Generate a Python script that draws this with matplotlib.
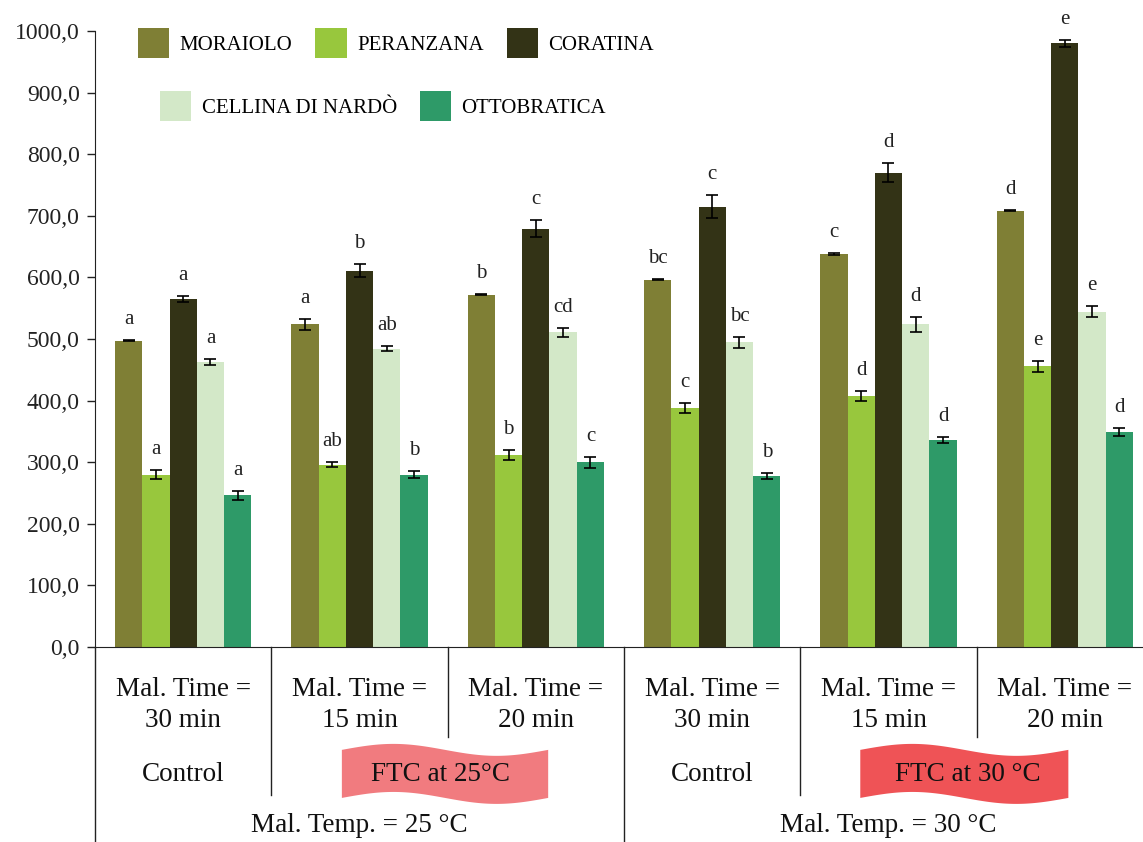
import numpy as np
import matplotlib
matplotlib.use('Agg')
import matplotlib.pyplot as plt
from matplotlib.patches import Patch, Polygon
from matplotlib.transforms import blended_transform_factory

plt.rcParams['font.family'] = ['Liberation Serif', 'DejaVu Serif']

# data
groups = ['Mal. Time =\n30 min', 'Mal. Time =\n15 min', 'Mal. Time =\n20 min',
          'Mal. Time =\n30 min', 'Mal. Time =\n15 min', 'Mal. Time =\n20 min']
cultivars = ['MORAIOLO', 'PERANZANA', 'CORATINA', 'CELLINA DI NARDÒ', 'OTTOBRATICA']

moraiolo = [497, 524, 572, 596, 638, 708]
moraiolo_err = [1, 9, 1, 1, 1, 1]
moraiolo_let = ['a', 'a', 'b', 'bc', 'c', 'd']

peranzana = [280, 296, 311, 388, 407, 456]
peranzana_err = [8, 4, 8, 8, 8, 9]
peranzana_let = ['a', 'ab', 'b', 'c', 'd', 'e']

coratina = [565, 611, 679, 715, 770, 980]
coratina_err = [5, 10, 14, 18, 15, 6]
coratina_let = ['a', 'b', 'c', 'c', 'd', 'e']

cellina = [462, 484, 511, 495, 524, 544]
cellina_err = [5, 4, 7, 9, 12, 9]
cellina_let = ['a', 'ab', 'cd', 'bc', 'd', 'e']

ottobratica = [246, 280, 300, 278, 336, 349]
ottobratica_err = [7, 6, 9, 5, 5, 7]
ottobratica_let = ['a', 'b', 'c', 'b', 'd', 'd']

treatments = ['Control', 'FTC at 25°C', 'Control', 'FTC at 30 °C']
temps = ['Mal. Temp. = 25 °C', 'Mal. Temp. = 30 °C']

colors = ['#7F7F35', '#98C73D', '#333316', '#D3E8C8', '#2E9A68']
series = [moraiolo, peranzana, coratina, cellina, ottobratica]
errs = [moraiolo_err, peranzana_err, coratina_err, cellina_err, ottobratica_err]
lets = [moraiolo_let, peranzana_let, coratina_let, cellina_let, ottobratica_let]

fig = plt.figure(figsize=(11.43, 8.42), dpi=100)
ax = fig.add_axes([95 / 1143, 195 / 842, 1058 / 1143, 616 / 842])

x = np.arange(len(groups))
w = 0.155
for i in range(5):
    pos = x + (i - 2) * w
    ax.bar(pos, series[i], w, color=colors[i], label=cultivars[i])
    ax.errorbar(pos, series[i], yerr=errs[i], fmt='none', ecolor='black',
                elinewidth=1.2, capsize=4, capthick=1.2)
    for p, v, e, t in zip(pos, series[i], errs[i], lets[i]):
        ax.text(p, v + e + 26, t, ha='center', va='baseline', fontsize=15, color='#222222')

ax.set_xlim(-0.5, 5.5)
ax.set_ylim(0, 1000)
ax.set_yticks(np.arange(0, 1001, 100))
ax.set_yticklabels([f"{v:.1f}".replace('.', ',') for v in np.arange(0, 1001, 100)])
ax.tick_params(axis='y', labelsize=17, direction='out', length=6, width=1, pad=5, colors='#222222')
ax.tick_params(axis='x', bottom=False, labelbottom=False)
for s in ['top', 'right']:
    ax.spines[s].set_visible(False)
ax.spines['left'].set_color('#222222')
ax.spines['bottom'].set_color('#222222')

# table below the axis
tr = blended_transform_factory(ax.transData, ax.transAxes)
ax.plot([-0.5, -0.5], [0, -0.33], transform=tr, color='#222222', lw=1, clip_on=False)
seps = [0.5, 1.5, 2.5, 3.5, 4.5]
sep_depth = [-0.24, -0.146, -0.33, -0.24, -0.146]
for sx, sd in zip(seps, sep_depth):
    ax.plot([sx, sx], [0, sd], transform=tr, color='#222222', lw=1, clip_on=False)

for i, g in enumerate(groups):
    ax.text(i, -0.094, g, transform=tr, ha='center', va='center', fontsize=19.5,
            linespacing=1.32, color='#111111')

# wavy banners
t = np.linspace(0, 1, 200)
amp = 0.0097
for (x0, x1), c in zip([(0.90, 2.07), (3.84, 5.02)], ['#F17B7F', '#EF5356']):
    xs = x0 + t * (x1 - x0)
    top = -0.167 + amp * np.sin(2 * np.pi * t)
    bot = -0.245 + amp * np.sin(2 * np.pi * t)
    verts = np.column_stack([np.concatenate([xs, xs[::-1]]), np.concatenate([top, bot[::-1]])])
    ax.add_patch(Polygon(verts, closed=True, transform=tr, facecolor=c,
                         edgecolor='none', clip_on=False))

treat_x = [0, 1.46, 3, 4.45]
for tx, tt in zip(treat_x, treatments):
    ax.text(tx, -0.207, tt, transform=tr, ha='center', va='center', fontsize=19.5, color='#111111')

for tx, tt in zip([1, 4], temps):
    ax.text(tx, -0.29, tt, transform=tr, ha='center', va='center', fontsize=19.5, color='#111111')

# legends in two rows
handles = [Patch(facecolor=colors[i], label=cultivars[i]) for i in range(5)]
leg_kw = dict(frameon=False, fontsize=15, handlelength=1.5, handleheight=1.85,
              handletextpad=0.5, columnspacing=1.1, borderpad=0, borderaxespad=0,
              loc='upper left')
fig.legend(handles=handles[:3], ncol=3, bbox_to_anchor=(138 / 1143, 1 - 28 / 842), **leg_kw)
fig.legend(handles=handles[3:], ncol=2, bbox_to_anchor=(160 / 1143, 1 - 91 / 842), **leg_kw)

fig.savefig('out.png', dpi=100)
